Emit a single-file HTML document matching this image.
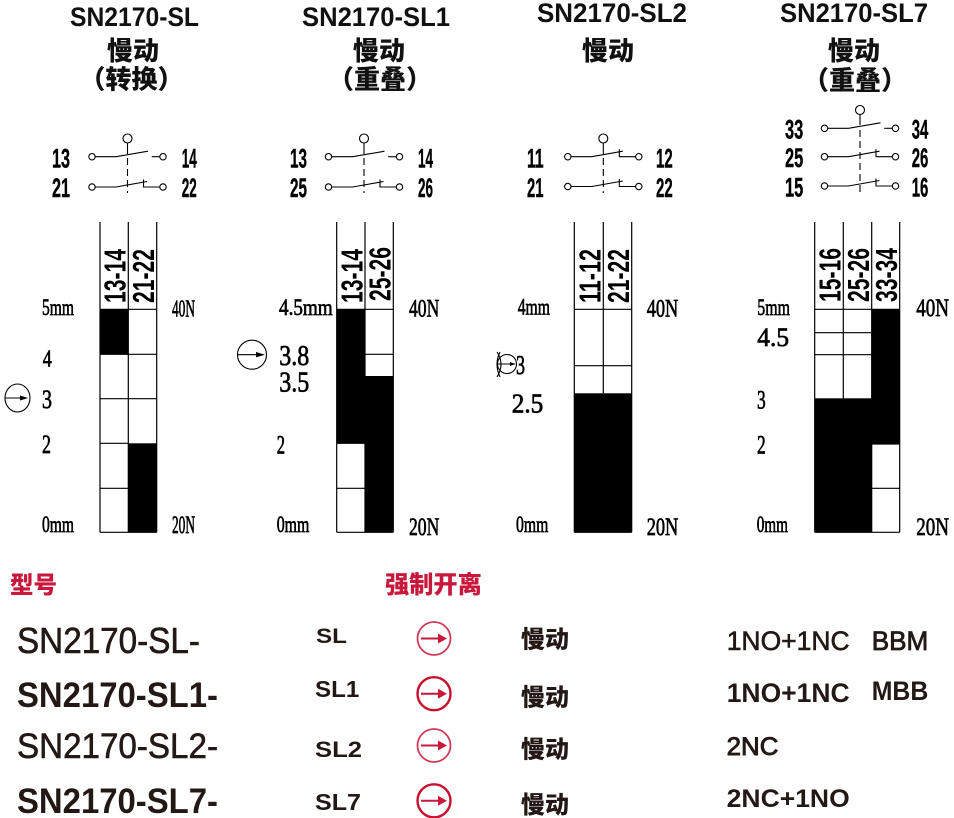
<!DOCTYPE html>
<html><head><meta charset="utf-8"><style>
html,body{margin:0;padding:0;background:#fff;}
svg{display:block;}
.t{font-family:"Liberation Sans","Noto Sans CJK SC",sans-serif;}
.cj{font-family:"Liberation Sans","Noto Sans CJK SC",sans-serif;font-weight:900;}
.s{font-family:"Liberation Serif",serif;}
.n{font-family:"Liberation Sans",sans-serif;font-weight:bold;}
</style></head><body>
<svg width="954" height="818" viewBox="0 0 954 818" xmlns="http://www.w3.org/2000/svg">
<rect width="954" height="818" fill="#fff"/>

<!-- Titles -->
<g class="t" font-weight="bold" fill="#111" font-size="26.5">
<text x="70" y="26" textLength="129" lengthAdjust="spacingAndGlyphs">SN2170-SL</text>
<text x="302" y="26" textLength="148" lengthAdjust="spacingAndGlyphs">SN2170-SL1</text>
<text x="537" y="22" textLength="150" lengthAdjust="spacingAndGlyphs">SN2170-SL2</text>
<text x="780" y="22" textLength="148" lengthAdjust="spacingAndGlyphs">SN2170-SL7</text>
</g>
<g class="cj" fill="#111" font-size="26" text-anchor="middle">
<text x="133" y="60">慢动</text>
<text x="131.5" y="88.5">（转换）</text>
<text x="379" y="60">慢动</text>
<text x="380" y="88.5">（重叠）</text>
<text x="608" y="60">慢动</text>
<text x="854" y="60">慢动</text>
<text x="855" y="89.5">（重叠）</text>
</g>

<!-- Contact diagrams -->
<g stroke="#000" stroke-width="1.1" fill="none">
<circle cx="127.5" cy="138.5" r="4.5"/>
<line x1="127.5" y1="143" x2="127.5" y2="154"/>
<line x1="127.5" y1="158" x2="127.5" y2="193" stroke-dasharray="7 4"/>
<circle cx="92" cy="156.7" r="3.2"/><circle cx="163" cy="156.7" r="3.2"/>
<polyline points="95.2,156.7 116,156.7 148,151.2"/><line x1="151.7" y1="156.7" x2="159.8" y2="156.7"/>
<circle cx="92" cy="187" r="3.2"/><circle cx="163" cy="187" r="3.2"/>
<polyline points="95.2,187 116,187 147,181.5"/><polyline points="143.5,179.5 143.5,187 159.8,187"/>

<circle cx="364" cy="138.5" r="4.5"/>
<line x1="364" y1="143" x2="364" y2="154"/>
<line x1="364" y1="158" x2="364" y2="193" stroke-dasharray="7 4"/>
<circle cx="328.5" cy="156.7" r="3.2"/><circle cx="399.5" cy="156.7" r="3.2"/>
<polyline points="331.7,156.7 352.5,156.7 384.5,151.2"/><line x1="388.2" y1="156.7" x2="396.3" y2="156.7"/>
<circle cx="328.5" cy="187" r="3.2"/><circle cx="399.5" cy="187" r="3.2"/>
<polyline points="331.7,187 352.5,187 383.5,181.5"/><polyline points="380,179.5 380,187 396.3,187"/>

<circle cx="603.3" cy="138.5" r="4.5"/>
<line x1="603.3" y1="143" x2="603.3" y2="154"/>
<line x1="603.3" y1="158" x2="603.3" y2="193" stroke-dasharray="7 4"/>
<circle cx="567.8" cy="156.7" r="3.2"/><circle cx="638.8" cy="156.7" r="3.2"/>
<polyline points="571,156.7 591.8,156.7 622.8,151.2"/><polyline points="619.3,149.2 619.3,156.7 635.6,156.7"/>
<circle cx="567.8" cy="186.5" r="3.2"/><circle cx="638.8" cy="186.5" r="3.2"/>
<polyline points="571,186.5 591.8,186.5 622.8,181"/><polyline points="619.3,179 619.3,186.5 635.6,186.5"/>

<circle cx="860" cy="110" r="4.5"/>
<line x1="860" y1="114.5" x2="860" y2="125"/>
<line x1="860" y1="130" x2="860" y2="193" stroke-dasharray="7 4"/>
<circle cx="824.5" cy="128.3" r="3.2"/><circle cx="895.5" cy="128.3" r="3.2"/>
<polyline points="827.7,128.3 848.5,128.3 880.5,122.8"/><line x1="884.2" y1="128.3" x2="892.3" y2="128.3"/>
<circle cx="824.5" cy="156.7" r="3.2"/><circle cx="895.5" cy="156.7" r="3.2"/>
<polyline points="827.7,156.7 848.5,156.7 879.5,151.2"/><polyline points="876,149.2 876,156.7 892.3,156.7"/>
<circle cx="824.5" cy="186" r="3.2"/><circle cx="895.5" cy="186" r="3.2"/>
<polyline points="827.7,186 848.5,186 879.5,180.5"/><polyline points="876,178.5 876,186 892.3,186"/>
</g>

<!-- Contact numbers -->
<g class="n" fill="#000" font-size="27" stroke="#000" stroke-width="0.4">
<text x="52" y="167.5" textLength="18" lengthAdjust="spacingAndGlyphs">13</text>
<text x="181.7" y="167.5" textLength="15" lengthAdjust="spacingAndGlyphs">14</text>
<text x="52" y="197" textLength="18" lengthAdjust="spacingAndGlyphs">21</text>
<text x="181.7" y="197" textLength="15" lengthAdjust="spacingAndGlyphs">22</text>

<text x="290" y="167.5" textLength="17" lengthAdjust="spacingAndGlyphs">13</text>
<text x="418" y="167.5" textLength="15" lengthAdjust="spacingAndGlyphs">14</text>
<text x="290" y="197" textLength="17" lengthAdjust="spacingAndGlyphs">25</text>
<text x="418" y="197" textLength="15" lengthAdjust="spacingAndGlyphs">26</text>

<text x="527" y="167.5" textLength="16.5" lengthAdjust="spacingAndGlyphs">11</text>
<text x="656" y="167.5" textLength="16.7" lengthAdjust="spacingAndGlyphs">12</text>
<text x="527" y="197" textLength="16.5" lengthAdjust="spacingAndGlyphs">21</text>
<text x="656" y="197" textLength="16.7" lengthAdjust="spacingAndGlyphs">22</text>

<text x="785" y="138.5" textLength="18.3" lengthAdjust="spacingAndGlyphs">33</text>
<text x="911.7" y="138.5" textLength="16.6" lengthAdjust="spacingAndGlyphs">34</text>
<text x="785" y="167" textLength="18.3" lengthAdjust="spacingAndGlyphs">25</text>
<text x="911.7" y="167" textLength="16.6" lengthAdjust="spacingAndGlyphs">26</text>
<text x="785" y="196.5" textLength="18.3" lengthAdjust="spacingAndGlyphs">15</text>
<text x="911.7" y="196.5" textLength="16.6" lengthAdjust="spacingAndGlyphs">16</text>
</g>

<!-- Tables fills -->
<g fill="#000">
<rect x="100" y="309.3" width="28.3" height="45"/>
<rect x="128.3" y="443.3" width="28.4" height="89"/>
<rect x="336.7" y="309.3" width="28.3" height="134"/>
<rect x="365" y="376" width="28.3" height="156.3"/>
<rect x="574.3" y="393.3" width="57.4" height="139"/>
<rect x="814.7" y="398.3" width="57" height="134"/>
<rect x="871.7" y="309.3" width="28" height="134.7"/>
</g>
<g stroke="#000" stroke-width="1.2" fill="none">
<line x1="100" y1="222" x2="100" y2="532.3"/><line x1="128.3" y1="222" x2="128.3" y2="532.3"/><line x1="156.7" y1="222" x2="156.7" y2="532.3"/>
<line x1="100" y1="309.3" x2="156.7" y2="309.3"/><line x1="100" y1="532.3" x2="156.7" y2="532.3"/>
<line x1="100" y1="354.3" x2="156.7" y2="354.3"/><line x1="100" y1="398.7" x2="156.7" y2="398.7"/>
<line x1="100" y1="443.3" x2="128.3" y2="443.3"/><line x1="100" y1="488.3" x2="128.3" y2="488.3"/>

<line x1="336.7" y1="222" x2="336.7" y2="532.3"/><line x1="365" y1="222" x2="365" y2="532.3"/><line x1="393.3" y1="222" x2="393.3" y2="532.3"/>
<line x1="336.7" y1="309.3" x2="393.3" y2="309.3"/><line x1="336.7" y1="532.3" x2="393.3" y2="532.3"/>
<line x1="365" y1="354.3" x2="393.3" y2="354.3"/>
<line x1="336.7" y1="443.3" x2="365" y2="443.3"/><line x1="336.7" y1="488.3" x2="365" y2="488.3"/>

<line x1="574.3" y1="222" x2="574.3" y2="532.3"/><line x1="603.3" y1="222" x2="603.3" y2="393.3"/><line x1="631.7" y1="222" x2="631.7" y2="532.3"/>
<line x1="574.3" y1="309.3" x2="631.7" y2="309.3"/><line x1="574.3" y1="365.7" x2="631.7" y2="365.7"/>
<line x1="574.3" y1="532.3" x2="631.7" y2="532.3"/>

<line x1="814.7" y1="222" x2="814.7" y2="532.3"/><line x1="843.3" y1="222" x2="843.3" y2="532.3"/><line x1="871.7" y1="222" x2="871.7" y2="532.3"/><line x1="899.7" y1="222" x2="899.7" y2="532.3"/>
<line x1="814.7" y1="309.3" x2="899.7" y2="309.3"/><line x1="814.7" y1="532.3" x2="899.7" y2="532.3"/>
<line x1="814.7" y1="332.7" x2="871.7" y2="332.7"/><line x1="814.7" y1="354.7" x2="871.7" y2="354.7"/>
<line x1="871.7" y1="444" x2="899.7" y2="444"/><line x1="871.7" y1="488.3" x2="899.7" y2="488.3"/>
</g>

<!-- Rotated headers -->
<g class="n" fill="#000" font-size="31">
<text transform="translate(125.7,303) rotate(-90)" textLength="54" lengthAdjust="spacingAndGlyphs">13-14</text>
<text transform="translate(153.8,303) rotate(-90)" textLength="54" lengthAdjust="spacingAndGlyphs">21-22</text>
<text transform="translate(362.3,303) rotate(-90)" textLength="54" lengthAdjust="spacingAndGlyphs">13-14</text>
<text transform="translate(390.5,301) rotate(-90)" textLength="54" lengthAdjust="spacingAndGlyphs">25-26</text>
<text transform="translate(600.3,303) rotate(-90)" textLength="54" lengthAdjust="spacingAndGlyphs">11-12</text>
<text transform="translate(629,303) rotate(-90)" textLength="54" lengthAdjust="spacingAndGlyphs">21-22</text>
<text transform="translate(840.5,302) rotate(-90)" textLength="54" lengthAdjust="spacingAndGlyphs">15-16</text>
<text transform="translate(869,302) rotate(-90)" textLength="54" lengthAdjust="spacingAndGlyphs">25-26</text>
<text transform="translate(897.2,302) rotate(-90)" textLength="54" lengthAdjust="spacingAndGlyphs">33-34</text>
</g>

<!-- Axis labels -->
<g class="s" fill="#000" stroke="#000" stroke-width="0.7">
<text x="42" y="315" font-size="23" textLength="32" lengthAdjust="spacingAndGlyphs">5mm</text>
<text x="42.7" y="366.5" font-size="24" textLength="9" lengthAdjust="spacingAndGlyphs">4</text>
<text x="42" y="408" font-size="26" textLength="10" lengthAdjust="spacingAndGlyphs">3</text>
<text x="42" y="453" font-size="26" textLength="9" lengthAdjust="spacingAndGlyphs">2</text>
<text x="42" y="532" font-size="23" textLength="32" lengthAdjust="spacingAndGlyphs">0mm</text>
<text x="172" y="316.5" font-size="24" textLength="23" lengthAdjust="spacingAndGlyphs">40N</text>
<text x="172" y="533" font-size="25" textLength="23" lengthAdjust="spacingAndGlyphs">20N</text>

<text x="279" y="315" font-size="23" textLength="53.7" lengthAdjust="spacingAndGlyphs">4.5mm</text>
<text x="279.3" y="365" font-size="29" textLength="30" lengthAdjust="spacingAndGlyphs">3.8</text>
<text x="279.3" y="391.7" font-size="29" textLength="30" lengthAdjust="spacingAndGlyphs">3.5</text>
<text x="276.7" y="453.3" font-size="26" textLength="8.3" lengthAdjust="spacingAndGlyphs">2</text>
<text x="276.7" y="532" font-size="23" textLength="32.6" lengthAdjust="spacingAndGlyphs">0mm</text>
<text x="409" y="316.5" font-size="25" textLength="30.3" lengthAdjust="spacingAndGlyphs">40N</text>
<text x="409" y="535" font-size="25" textLength="30.3" lengthAdjust="spacingAndGlyphs">20N</text>

<text x="517.7" y="314.3" font-size="23" textLength="32.3" lengthAdjust="spacingAndGlyphs">4mm</text>
<text x="516" y="374" font-size="27" textLength="9" lengthAdjust="spacingAndGlyphs">3</text>
<text x="511.7" y="412.5" font-size="27" textLength="31.6" lengthAdjust="spacingAndGlyphs">2.5</text>
<text x="516" y="532" font-size="23" textLength="32.3" lengthAdjust="spacingAndGlyphs">0mm</text>
<text x="646.7" y="316.7" font-size="25" textLength="31.6" lengthAdjust="spacingAndGlyphs">40N</text>
<text x="646.7" y="535" font-size="25" textLength="31.6" lengthAdjust="spacingAndGlyphs">20N</text>

<text x="757.3" y="315" font-size="23" textLength="32.7" lengthAdjust="spacingAndGlyphs">5mm</text>
<text x="757.3" y="346" font-size="26" textLength="31.7" lengthAdjust="spacingAndGlyphs">4.5</text>
<text x="757" y="408.3" font-size="26" textLength="8.7" lengthAdjust="spacingAndGlyphs">3</text>
<text x="757" y="453.3" font-size="26" textLength="8.7" lengthAdjust="spacingAndGlyphs">2</text>
<text x="756.7" y="532" font-size="23" textLength="31.3" lengthAdjust="spacingAndGlyphs">0mm</text>
<text x="916.3" y="316" font-size="25" textLength="32.7" lengthAdjust="spacingAndGlyphs">40N</text>
<text x="916.3" y="535" font-size="25" textLength="32.7" lengthAdjust="spacingAndGlyphs">20N</text>
</g>

<!-- axis icons -->
<g stroke="#000" stroke-width="1.1" fill="none">
<ellipse cx="17.5" cy="398" rx="12.5" ry="14"/>
<line x1="5" y1="398" x2="22" y2="398"/>
<circle cx="252" cy="354.7" r="14.5"/>
<line x1="237.5" y1="354.7" x2="258" y2="354.7"/>
<circle cx="507" cy="364" r="9.5"/>
<line x1="497.5" y1="364" x2="515" y2="364"/>
<path d="M497,352 Q505,364 497,377"/>
<path d="M500,352 Q494,364 500,377"/>
</g>
<g fill="#000">
<polygon points="20,395.5 28,398 20,400.5"/>
<polygon points="256,352 265,354.7 256,357.4"/>
<polygon points="510,362 515.5,364 510,366"/>
</g>

<!-- Bottom section -->
<g class="cj" fill="#c8183c" font-size="23.5">
<text x="10" y="593">型号</text>
<text x="385" y="593" font-size="24.2">强制开离</text>
</g>

<g class="t" fill="#231815">
<text x="17" y="653" font-size="36" stroke="#231815" stroke-width="0.6" textLength="183" lengthAdjust="spacingAndGlyphs">SN2170-SL-</text>
<text x="17" y="707" font-size="35" font-weight="bold" textLength="201" lengthAdjust="spacingAndGlyphs">SN2170-SL1-</text>
<text x="17" y="758" font-size="35" stroke="#231815" stroke-width="0.6" textLength="201" lengthAdjust="spacingAndGlyphs">SN2170-SL2-</text>
<text x="17" y="813" font-size="35" font-weight="bold" textLength="201" lengthAdjust="spacingAndGlyphs">SN2170-SL7-</text>

<text x="316" y="643" font-size="21" font-weight="bold" textLength="31" lengthAdjust="spacingAndGlyphs">SL</text>
<text x="315" y="697" font-size="23" font-weight="bold" textLength="44.3" lengthAdjust="spacingAndGlyphs">SL1</text>
<text x="315" y="757" font-size="22" font-weight="bold" textLength="47" lengthAdjust="spacingAndGlyphs">SL2</text>
<text x="315" y="810" font-size="23" font-weight="bold" textLength="46" lengthAdjust="spacingAndGlyphs">SL7</text>

<text x="726.7" y="650" font-size="27" stroke="#231815" stroke-width="0.6" textLength="123" lengthAdjust="spacingAndGlyphs">1NO+1NC</text>
<text x="871.7" y="650" font-size="27" stroke="#231815" stroke-width="0.8" textLength="56.6" lengthAdjust="spacingAndGlyphs">BBM</text>
<text x="726.7" y="702" font-size="27" font-weight="bold" textLength="123" lengthAdjust="spacingAndGlyphs">1NO+1NC</text>
<text x="871.7" y="700" font-size="27" font-weight="bold" textLength="56.6" lengthAdjust="spacingAndGlyphs">MBB</text>
<text x="726.7" y="755" font-size="25" stroke="#231815" stroke-width="0.9" textLength="51.7" lengthAdjust="spacingAndGlyphs">2NC</text>
<text x="726.7" y="807" font-size="25" font-weight="bold" textLength="123" lengthAdjust="spacingAndGlyphs">2NC+1NO</text>
</g>
<g class="cj" fill="#231815" font-size="24" font-weight="bold">
<text x="521" y="647.5">慢动</text>
<text x="521" y="705.5">慢动</text>
<text x="521" y="757.5">慢动</text>
<text x="521" y="813">慢动</text>
</g>

<!-- red circled arrows -->
<g fill="none">
<circle cx="434" cy="638.5" r="16.5" stroke="#d03a5c" stroke-width="1.8"/>
<circle cx="434" cy="693.7" r="16.5" stroke="#c8102e" stroke-width="2.4"/>
<circle cx="434" cy="745.5" r="16.5" stroke="#d03a5c" stroke-width="1.8"/>
<circle cx="434" cy="800.8" r="16.5" stroke="#c8102e" stroke-width="2.4"/>
<g stroke="#c8183c" stroke-width="2">
<line x1="421" y1="638.5" x2="440" y2="638.5"/>
<line x1="421" y1="693.7" x2="440" y2="693.7"/>
<line x1="421" y1="745.5" x2="440" y2="745.5"/>
<line x1="421" y1="800.8" x2="440" y2="800.8"/>
</g>
</g>
<g fill="#c8183c">
<polygon points="438,633.5 447,638.5 438,643.5"/>
<polygon points="438,688.7 447,693.7 438,698.7"/>
<polygon points="438,740.5 447,745.5 438,750.5"/>
<polygon points="438,795.8 447,800.8 438,805.8"/>
</g>
</svg>
</body></html>
